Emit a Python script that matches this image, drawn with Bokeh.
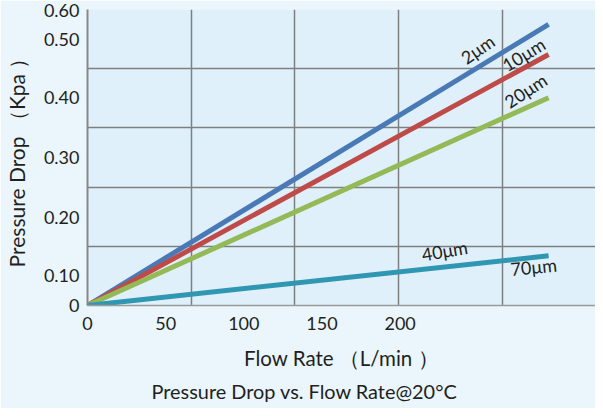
from bokeh.plotting import figure
from bokeh.models import Range1d, FixedTicker, Title
from bokeh.core.properties import value
from bokeh.embed import file_html
from bokeh.resources import INLINE

# ---- data ----
flow = [0, 295]                 # L/min
dp_2um = [0, 0.475]             # Kpa
dp_10um = [0, 0.424]
dp_20um = [0, 0.351]
dp_40_70um = [0, 0.084]

xtick_values = [0, 50, 100, 150, 200]
xtick_labels = ["0", "50", "100", "150", "200"]
ytick_labels = ["0", "0.10", "0.20", "0.30", "0.40", "0.50", "0.60"]
caption = "Pressure Drop vs. Flow Rate@20°C"

# ---- layout / style (positions) ----
ytick_pos = [0.0, 0.051, 0.149, 0.25, 0.351, 0.449, 0.498]
xgrid_pos = [66.3, 132.6, 198.9, 265.2]
ygrid_pos = [0.1, 0.2, 0.3, 0.4, 0.5]

FONT = value("Lato")
TXT = "#231f20"
GRID = "#7f7f7f"

p = figure(width=595, height=408, output_backend="svg", toolbar_location=None,
           x_range=Range1d(0, 325), y_range=Range1d(0, 0.5),
           min_border_left=85, min_border_top=9, min_border_right=0,
           min_border_bottom=103)

p.background_fill_color = "#e0f0fa"
p.border_fill_color = "#eaf5fc"
p.outline_line_color = None

# grid
p.xgrid.ticker = FixedTicker(ticks=xgrid_pos)
p.ygrid.ticker = FixedTicker(ticks=ygrid_pos)
for g in (p.xgrid, p.ygrid):
    g.grid_line_color = GRID
    g.grid_line_width = 1.5

# axes
p.xaxis.ticker = FixedTicker(ticks=xtick_values)
p.xaxis.major_label_overrides = {float(v): l for v, l in zip(xtick_values, xtick_labels)}
p.yaxis.ticker = FixedTicker(ticks=ytick_pos)
p.yaxis.major_label_overrides = {float(v): l for v, l in zip(ytick_pos, ytick_labels)}

for ax in (p.xaxis, p.yaxis):
    ax.major_tick_line_color = None
    ax.minor_tick_line_color = None
    ax.major_tick_out = 0
    ax.major_tick_in = 0
    ax.minor_tick_out = 0
    ax.minor_tick_in = 0
    ax.major_label_text_font = "Lato"
    ax.major_label_text_font_size = "18px"
    ax.major_label_text_color = TXT
    ax.axis_label_text_font = "Lato"
    ax.axis_label_text_font_style = "normal"
    ax.axis_label_text_color = TXT
    ax.major_label_standoff = 8
ax = None
p.yaxis.axis_line_color = "#888888"
p.yaxis.axis_line_width = 2
p.xaxis.axis_line_color = "#9a9a9a"
p.xaxis.axis_line_width = 1.5
p.xaxis.axis_label = "Flow Rate （L/min ）"
p.yaxis.axis_label = "Pressure Drop （Kpa ）"
p.xaxis.axis_label_text_font_size = "20.5px"
p.yaxis.axis_label_text_font_size = "21px"
p.xaxis.axis_label_standoff = 13
p.yaxis.axis_label_standoff = 12
p.xaxis.major_label_standoff = 11

# lines
series = [
    (dp_2um, "#4a7ab6"),
    (dp_10um, "#be4b48"),
    (dp_20um, "#94b957"),
    (dp_40_70um, "#3097b2"),
]
for ys, col in series:
    p.line(flow, ys, line_color=col, line_width=5)

# labels anchored at line ends
labels = [
    ("2μm", dp_2um, -71, 25, 0.60),
    ("10μm", dp_10um, -25, 0, 0.55),
    ("20μm", dp_20um, -23, -7, 0.58),
    ("40μm", dp_40_70um, -104, -5, 0.17),
    ("70μm", dp_40_70um, -15, 11, 0.10),
]
for txt, ys, dx, dy, ang in labels:
    p.text(x=[flow[-1]], y=[ys[-1]], text=[txt], x_offset=dx, y_offset=dy,
           angle=ang, text_align="center", text_baseline="middle",
           text_font=FONT, text_font_size="18px", text_color=TXT)

p.add_layout(Title(text=caption, align="left", offset=64,
                   standoff=8.5, text_font="Lato", text_font_size="19.9px",
                   text_font_style="normal", text_color=TXT), "below")

open("out.html", "w").write(file_html(p, INLINE))
